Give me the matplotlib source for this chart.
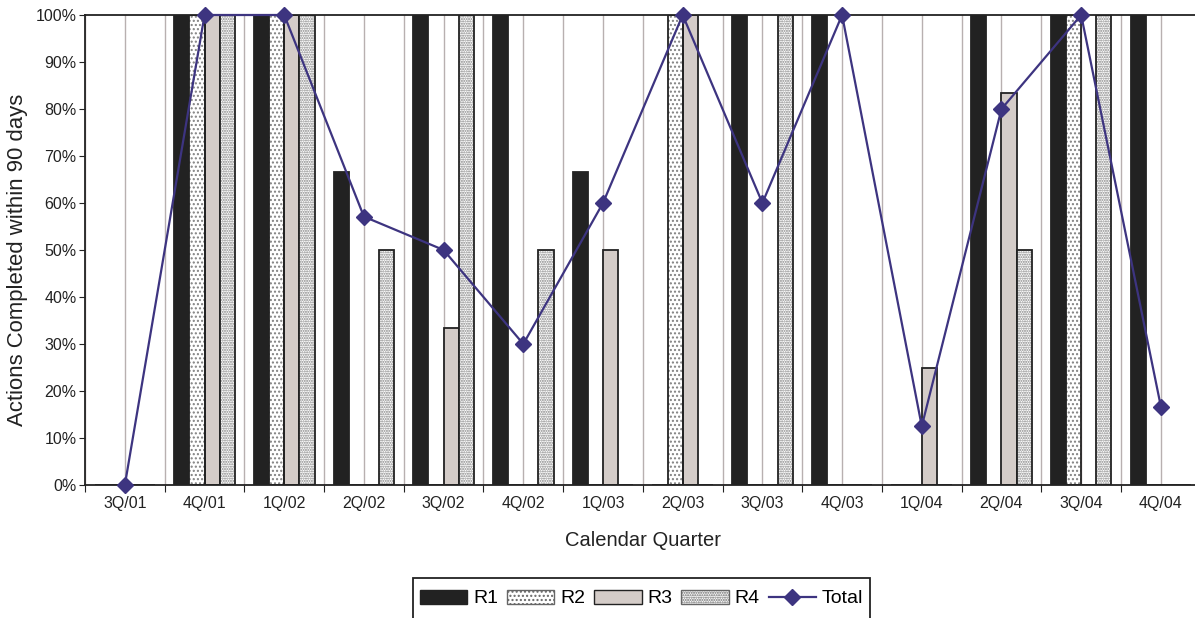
import matplotlib
matplotlib.use("Agg")
import matplotlib.pyplot as plt
import numpy as np
from matplotlib.patches import Patch, Rectangle
from matplotlib.lines import Line2D
from matplotlib.ticker import FixedLocator, PercentFormatter

plt.rcParams['font.family'] = ['Liberation Sans', 'DejaVu Sans']

quarters = ["3Q/01", "4Q/01", "1Q/02", "2Q/02", "3Q/02", "4Q/02", "1Q/03",
            "2Q/03", "3Q/03", "4Q/03", "1Q/04", "2Q/04", "3Q/04", "4Q/04"]
r1 = [0, 100, 100, 66.7, 100, 100, 66.7, 0, 100, 100, 0, 100, 100, 100]
r2 = [0, 100, 100, 0, 0, 0, 0, 100, 0, 0, 0, 0, 100, 0]
r3 = [0, 100, 100, 0, 33.3, 0, 50, 100, 0, 0, 25, 83.3, 0, 0]
r4 = [0, 100, 100, 50, 100, 50, 0, 0, 100, 0, 0, 50, 100, 0]
total = [0, 100, 100, 57.1, 50, 30, 60, 100, 60, 100, 12.5, 80, 100, 16.7]

series_names = ["R1", "R2", "R3", "R4"]
face = ["#222222", "white", "#d4ccc8", "white"]
hatches = [None, "....", None, "......."]
line_color = "#3d3480"

W, H = 1195, 618
fig = plt.figure(figsize=(W / 100, H / 100), dpi=100)
ax_w_px = 1200.7 - 85
ax = fig.add_axes([85 / W, (H - 485) / H, ax_w_px / W, 470 / H])

x = np.arange(len(quarters))
bw = 0.19
offsets = (np.arange(4) - 1.5) * bw
for i, vals in enumerate([r1, r2, r3, r4]):
    pos = x + offsets[i]
    if hatches[i]:
        ax.bar(pos, vals, bw, color=face[i], edgecolor="#808080", hatch=hatches[i],
               linewidth=0, zorder=2)
        ax.bar(pos, vals, bw, fill=False, edgecolor="#222222", linewidth=1.3, zorder=3)
    else:
        ax.bar(pos, vals, bw, color=face[i], edgecolor="#222222", linewidth=1.3, zorder=2)

ax.plot(x, total, color=line_color, lw=1.6, marker="D", markersize=8,
        markerfacecolor=line_color, markeredgecolor=line_color, zorder=5, clip_on=False)

ax.set_xlim(-0.5, 13.5)
ax.set_ylim(0, 100)

ax.xaxis.set_major_locator(FixedLocator(np.arange(-0.5, 14, 1)))
ax.xaxis.set_minor_locator(FixedLocator(x))
ax.set_xticklabels([""] * 15)
ax.set_xticklabels(quarters, minor=True, fontsize=11.5, color="#222222")
ax.tick_params(axis="x", which="major", length=5, direction="out", color="#222222")
ax.tick_params(axis="x", which="minor", length=0, pad=8)
ax.set_yticks(np.arange(0, 101, 10))
ax.yaxis.set_major_formatter(PercentFormatter(decimals=0))
ax.tick_params(axis="y", length=4, direction="out", labelsize=11.5, labelcolor="#222222",
               color="#222222", pad=2)

for g in np.arange(-0.5, 14, 0.5):
    ax.axvline(g, color="#b8b0b0", lw=1.0, zorder=1)

for s in ["left", "bottom", "top"]:
    ax.spines[s].set_color("#222222")
    ax.spines[s].set_linewidth(1.3)
ax.spines["right"].set_visible(False)

ax.set_ylabel("Actions Completed within 90 days", fontsize=15.9, color="#222222")
ax.yaxis.set_label_coords(-(85 - 28) / ax_w_px, 0.479)
ax.set_xlabel("Calendar Quarter", fontsize=14.5, color="#222222")
ax.xaxis.set_label_coords(0.5, -(531 - 485) / 470)

handles = [
    Patch(facecolor=face[0], edgecolor="#222222"),
    Patch(facecolor=face[1], edgecolor="#666666", hatch=hatches[1]),
    Patch(facecolor=face[2], edgecolor="#222222"),
    Patch(facecolor=face[3], edgecolor="#666666", hatch=hatches[3]),
    Line2D([0], [0], color=line_color, lw=1.6, marker="D", markersize=8),
]
leg = fig.legend(handles, series_names + ["Total"], loc="center",
                 bbox_to_anchor=(641.5 / W, 1 - 598.5 / H), ncol=5, frameon=False,
                 fontsize=14,
                 handlelength=2.45, handleheight=0.75, handletextpad=0.3,
                 columnspacing=0.45, borderpad=0.4, borderaxespad=0)
fig.patches.append(Rectangle((413 / W, -0.05), (870 - 413) / W, 0.05 + 1 - 578 / H,
                             transform=fig.transFigure, fill=False,
                             edgecolor="#222222", linewidth=1.3))

fig.savefig("out.png", dpi=100)
